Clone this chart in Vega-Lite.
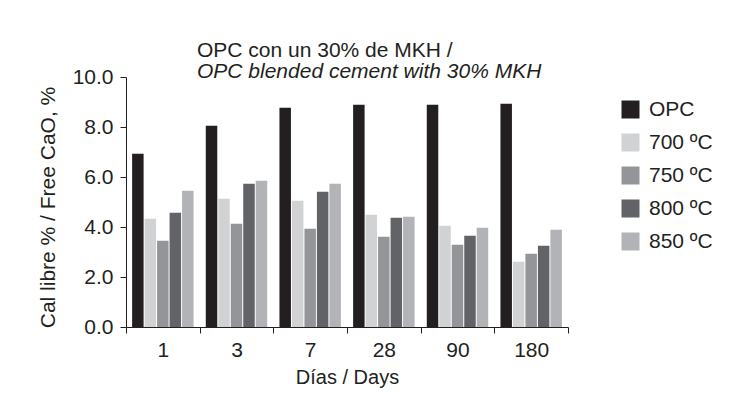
{
  "$schema": "https://vega.github.io/schema/vega-lite/v6.json",
  "width": 442,
  "height": 250,
  "autosize": {"type": "none"},
  "padding": {"left": 126, "top": 77, "right": 163, "bottom": 76},
  "background": "white",
  "title": {
    "text": "OPC con un 30% de MKH /",
    "subtitle": "OPC blended cement with 30% MKH",
    "anchor": "start",
    "frame": "group",
    "dx": 71,
    "offset": -16,
    "fontSize": 21,
    "fontWeight": "normal",
    "color": "#231f20",
    "subtitleFontSize": 21,
    "subtitleFontStyle": "italic",
    "subtitleColor": "#231f20",
    "subtitlePadding": 0
  },
  "data": {
    "values": [
      {"day": 1, "series": "OPC", "value": 6.93},
      {"day": 1, "series": "700 ºC", "value": 4.33},
      {"day": 1, "series": "750 ºC", "value": 3.45},
      {"day": 1, "series": "800 ºC", "value": 4.57},
      {"day": 1, "series": "850 ºC", "value": 5.45},
      {"day": 3, "series": "OPC", "value": 8.05},
      {"day": 3, "series": "700 ºC", "value": 5.13},
      {"day": 3, "series": "750 ºC", "value": 4.13},
      {"day": 3, "series": "800 ºC", "value": 5.73},
      {"day": 3, "series": "850 ºC", "value": 5.85},
      {"day": 7, "series": "OPC", "value": 8.77},
      {"day": 7, "series": "700 ºC", "value": 5.05},
      {"day": 7, "series": "750 ºC", "value": 3.93},
      {"day": 7, "series": "800 ºC", "value": 5.41},
      {"day": 7, "series": "850 ºC", "value": 5.73},
      {"day": 28, "series": "OPC", "value": 8.89},
      {"day": 28, "series": "700 ºC", "value": 4.49},
      {"day": 28, "series": "750 ºC", "value": 3.61},
      {"day": 28, "series": "800 ºC", "value": 4.37},
      {"day": 28, "series": "850 ºC", "value": 4.41},
      {"day": 90, "series": "OPC", "value": 8.89},
      {"day": 90, "series": "700 ºC", "value": 4.05},
      {"day": 90, "series": "750 ºC", "value": 3.29},
      {"day": 90, "series": "800 ºC", "value": 3.65},
      {"day": 90, "series": "850 ºC", "value": 3.97},
      {"day": 180, "series": "OPC", "value": 8.93},
      {"day": 180, "series": "700 ºC", "value": 2.61},
      {"day": 180, "series": "750 ºC", "value": 2.93},
      {"day": 180, "series": "800 ºC", "value": 3.25},
      {"day": 180, "series": "850 ºC", "value": 3.89}
    ]
  },
  "mark": {"type": "bar"},
  "encoding": {
    "x": {
      "field": "day",
      "type": "ordinal",
      "sort": "ascending",
      "scale": {"paddingInner": 0, "paddingOuter": 0},
      "axis": {
        "title": "Días / Days",
        "tickBand": "extent",
        "labelAngle": 0,
        "tickSize": 6,
        "labelPadding": 6,
        "labelFontSize": 21,
        "titleFontSize": 20,
        "titleFontWeight": "normal",
        "titlePadding": 7,
        "domainColor": "#231f20",
        "tickColor": "#231f20",
        "labelColor": "#231f20",
        "titleColor": "#231f20"
      }
    },
    "xOffset": {
      "field": "series",
      "type": "nominal",
      "sort": ["OPC", "700 ºC", "750 ºC", "800 ºC", "850 ºC"],
      "scale": {"paddingInner": 0.08, "paddingOuter": 0.49}
    },
    "y": {
      "field": "value",
      "type": "quantitative",
      "scale": {"domain": [0, 10]},
      "axis": {
        "title": "Cal libre % / Free CaO, %",
        "values": [0, 2, 4, 6, 8, 10],
        "format": ".1f",
        "grid": false,
        "tickSize": 6,
        "labelPadding": 7,
        "labelFontSize": 21,
        "titleFontSize": 21,
        "titleFontWeight": "normal",
        "titlePadding": 14,
        "titleY": 130,
        "domainColor": "#231f20",
        "tickColor": "#231f20",
        "labelColor": "#231f20",
        "titleColor": "#231f20"
      }
    },
    "color": {
      "field": "series",
      "type": "nominal",
      "scale": {
        "domain": ["OPC", "700 ºC", "750 ºC", "800 ºC", "850 ºC"],
        "range": ["#231f20", "#d1d2d4", "#939598", "#626366", "#b1b3b6"]
      },
      "legend": {
        "title": null,
        "orient": "none",
        "legendX": 494,
        "legendY": 22,
        "padding": 0,
        "symbolType": "square",
        "symbolSize": 324,
        "symbolStrokeWidth": 0,
        "labelFontSize": 21,
        "labelColor": "#231f20",
        "labelOffset": 8,
        "rowPadding": 11
      }
    }
  },
  "config": {
    "view": {"stroke": null},
    "font": "Liberation Sans"
  }
}
